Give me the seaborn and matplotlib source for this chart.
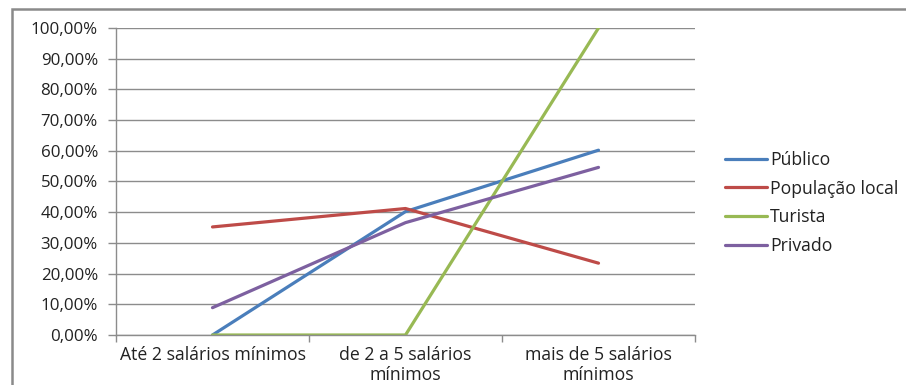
import matplotlib
matplotlib.use("Agg")
import matplotlib.pyplot as plt
import matplotlib.patches as mpatches
from matplotlib.ticker import FuncFormatter, FixedLocator
import seaborn as sns
import pandas as pd

categorias = ["Até 2 salários mínimos", "de 2 a 5 salários\nmínimos", "mais de 5 salários\nmínimos"]
publico = [0.0, 40.2, 60.2]
populacao_local = [35.2, 41.2, 23.4]
turista = [0.0, 0.0, 100.0]
privado = [8.9, 36.6, 54.6]

series = {
    "Público": publico,
    "População local": populacao_local,
    "Turista": turista,
    "Privado": privado,
}
cores = {
    "Público": "#4A7EBB",
    "População local": "#BE4B48",
    "Turista": "#98B954",
    "Privado": "#7D60A0",
}

linhas = []
for nome, valores in series.items():
    for i, (cat, v) in enumerate(zip(categorias, valores)):
        linhas.append({"pos": i, "categoria": cat, "grupo": nome, "valor": v})
df = pd.DataFrame(linhas)

sns.set_theme(style="white")
plt.rcParams["font.family"] = ["Open Sans", "DejaVu Sans"]

fig = plt.figure(figsize=(9.06, 3.85), dpi=100)
W, H = 906, 385
ax = fig.add_axes([116 / W, 1 - 335 / H, (695 - 116) / W, (335 - 28) / H])

sns.lineplot(data=df, x="pos", y="valor", hue="grupo", palette=cores,
             hue_order=list(series.keys()), linewidth=2.3, ax=ax,
             legend=False, sort=False)

ax.set_xlim(-0.5, 2.5)
ax.set_ylim(0, 100)
ax.set_xlabel("")
ax.set_ylabel("")

grid_c = "#8C8C8C"
txt_c = "#222222"
ax.set_yticks(range(0, 101, 10))
ax.yaxis.set_major_formatter(FuncFormatter(lambda v, p: f"{v:.2f}%".replace(".", ",")))
ax.yaxis.grid(True, color=grid_c, linewidth=1.0)
ax.set_axisbelow(True)

ax.xaxis.set_major_locator(FixedLocator([0, 1, 2]))
ax.set_xticklabels(categorias, linespacing=1.15)
ax.xaxis.set_minor_locator(FixedLocator([-0.5, 0.5, 1.5, 2.5]))
ax.tick_params(axis="x", which="major", length=0, pad=8, labelsize=12.7, colors=txt_c)
ax.tick_params(axis="x", which="minor", length=5, width=1, color=grid_c, direction="out")
ax.tick_params(axis="y", which="major", length=6, width=1, color=grid_c, direction="out",
               pad=7, labelsize=12.2, labelcolor=txt_c)
ax.tick_params(axis="both", left=True, bottom=True)
ax.xaxis.set_tick_params(which="minor", bottom=True)

for s in ["top", "right"]:
    ax.spines[s].set_visible(False)
for s in ["left", "bottom"]:
    ax.spines[s].set_color(grid_c)
    ax.spines[s].set_linewidth(1.0)

handles = [plt.Line2D([], [], color=cores[n], linewidth=2.3) for n in series]
leg = fig.legend(handles, list(series.keys()), loc="upper left",
                 bbox_to_anchor=(718 / W, 1 - 144 / H), frameon=False,
                 fontsize=12.7, handlelength=2.4, handletextpad=0.15,
                 labelspacing=0.6, borderaxespad=0)
for t in leg.get_texts():
    t.set_color(txt_c)

# outer chart frame
fig.patches.append(mpatches.Rectangle((12 / W, -0.05), 1.1, 1 - 9 / H + 0.05,
                                      transform=fig.transFigure, fill=False,
                                      edgecolor="#8A8A8A", linewidth=1.8))

fig.savefig("out.png", dpi=100)
